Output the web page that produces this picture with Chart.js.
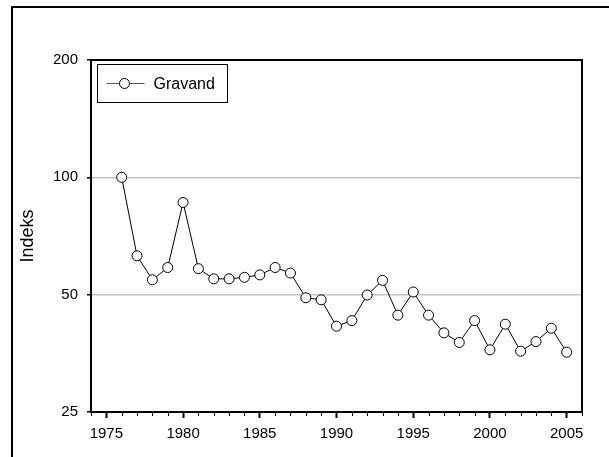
<!DOCTYPE html>
<html>
<head>
<meta charset="utf-8">
<script src="https://cdn.jsdelivr.net/npm/chart.js@4/dist/chart.umd.min.js"></script>
<style>
	html, body { margin: 0; padding: 0; background: #fff; }
	#wrap { position: relative; width: 609px; height: 457px; overflow: hidden; }
	#frame { position: absolute; left: 11px; top: 6px; width: 700px; height: 600px; border-top: 2px solid #000; border-left: 2px solid #000; }
	canvas { position: absolute; left: 0; top: 0; }
</style>
</head>
<body>
<div id="wrap">
	<div id="frame"></div>
	<canvas id="chart" width="609" height="457"></canvas>
</div>
<script>
"use strict";

const years = [1976, 1977, 1978, 1979, 1980, 1981, 1982, 1983, 1984, 1985,
	1986, 1987, 1988, 1989, 1990, 1991, 1992, 1993, 1994, 1995,
	1996, 1997, 1998, 1999, 2000, 2001, 2002, 2003, 2004, 2005];
const gravand = [100, 62.9, 54.6, 58.7, 86.2, 58.3, 54.9, 54.9, 55.4, 56.2,
	58.7, 56.8, 49.1, 48.5, 41.5, 42.9, 49.9, 54.4, 44.3, 50.8,
	44.3, 39.9, 37.7, 42.9, 36.1, 42.0, 35.8, 37.9, 41.0, 35.6];
const yTicks = [25, 50, 100, 200];
const xTicks = [1975, 1980, 1985, 1990, 1995, 2000, 2005];
const seriesLabel = "Gravand";
const yTitle = "Indeks";

const FONT = "Arial, 'Liberation Sans', Helvetica, sans-serif";

// box round the plot area plus the short yearly ticks
const frameBox = {
	id: "frameBox",
	afterDraw(chart) {
		const {ctx, chartArea: a} = chart;
		const xs = chart.scales.x;
		ctx.save();
		ctx.strokeStyle = "#000";
		ctx.lineWidth = 1;
		for (let yr = Math.ceil(xs.min); yr <= xs.max; ++yr) {
			if (xTicks.includes(yr)) continue;
			const px = Math.round(xs.getPixelForValue(yr)) + 0.5;
			ctx.beginPath();
			ctx.moveTo(px, a.bottom);
			ctx.lineTo(px, a.bottom + 4);
			ctx.stroke();
		}
		ctx.lineWidth = 2;
		ctx.strokeRect(a.left, a.top, a.right - a.left, a.bottom - a.top);
		ctx.restore();
	}
};

// legend inside the plot, top left
const innerLegend = {
	id: "innerLegend",
	afterDatasetsDraw(chart) {
		const {ctx, chartArea: a} = chart;
		const ds = chart.data.datasets[0];
		const bx = a.left + 6.5, by = a.top + 4.5, bw = 130, bh = 38;
		const cy = by + bh / 2;
		ctx.save();
		ctx.fillStyle = "#fff";
		ctx.fillRect(bx, by, bw, bh);
		ctx.strokeStyle = "#000";
		ctx.lineWidth = 1;
		ctx.strokeRect(bx, by, bw, bh);
		ctx.strokeStyle = "#555";
		ctx.beginPath();
		ctx.moveTo(bx + 9, cy);
		ctx.lineTo(bx + 47, cy);
		ctx.stroke();
		ctx.beginPath();
		ctx.arc(bx + 27, cy, 5, 0, Math.PI * 2);
		ctx.fillStyle = "#fff";
		ctx.fill();
		ctx.strokeStyle = "#000";
		ctx.stroke();
		ctx.fillStyle = "#000";
		ctx.font = "16px " + FONT;
		ctx.textBaseline = "middle";
		ctx.fillText(ds.label, bx + 56, cy + 1);
		ctx.restore();
	}
};

const chart = new Chart(document.getElementById("chart"), {
	type: "line",
	data: {
		datasets: [{
			label: seriesLabel,
			data: years.map((yr, i) => ({x: yr, y: gravand[i]})),
			borderColor: "#000",
			borderWidth: 1,
			pointRadius: 5,
			pointBorderWidth: 1,
			pointBackgroundColor: "#fff",
			pointBorderColor: "#000",
			tension: 0,
		}],
	},
	options: {
		responsive: false,
		animation: false,
		devicePixelRatio: 1,
		layout: {
			padding: {left: 0, top: 60, right: 27, bottom: 0},
		},
		plugins: {
			legend: {display: false},
			tooltip: {enabled: false},
		},
		scales: {
			x: {
				type: "linear",
				min: 1974,
				max: 2006,
				afterBuildTicks: scale => {
					scale.ticks = xTicks.map(v => ({value: v}));
				},
				afterFit: scale => {
					scale.height = 45;
				},
				border: {display: false},
				grid: {
					color: "rgba(0,0,0,0)",
					tickColor: "#000",
					tickLength: 6,
					tickWidth: 2,
				},
				ticks: {
					color: "#000",
					font: {family: FONT, size: 15},
					padding: 7,
					maxRotation: 0,
					callback: v => String(v),
				},
			},
			y: {
				type: "logarithmic",
				min: 25,
				max: 200,
				afterBuildTicks: scale => {
					scale.ticks = yTicks.map(v => ({value: v}));
				},
				afterFit: scale => {
					scale.width = 91;
				},
				border: {display: false},
				grid: {
					color: ctx => (ctx.tick && (ctx.tick.value === 50 || ctx.tick.value === 100)) ? "#c4c4c4" : "rgba(0,0,0,0)",
					lineWidth: 1.5,
					tickColor: "#000",
					tickLength: 4,
					tickWidth: 1.5,
				},
				ticks: {
					color: "#000",
					font: {family: FONT, size: 15},
					padding: 9,
					callback: v => String(v),
				},
				title: {
					display: true,
					text: yTitle,
					color: "#000",
					font: {family: FONT, size: 18},
					padding: {top: 17, bottom: 0},
				},
			},
		},
	},
	plugins: [frameBox, innerLegend],
});
</script>
</body>
</html>
